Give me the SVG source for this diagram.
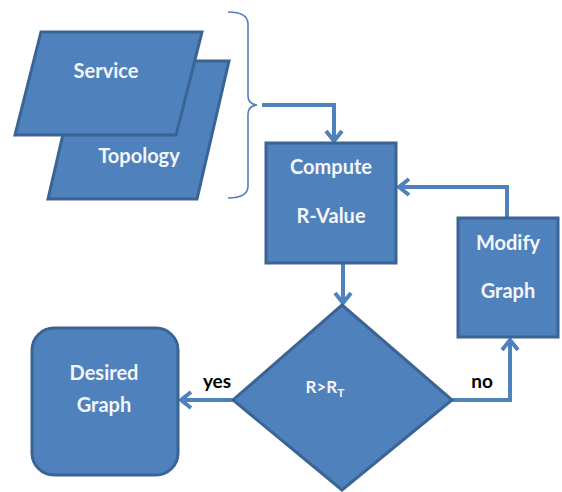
<svg xmlns="http://www.w3.org/2000/svg" width="562" height="492" viewBox="0 0 562 492">
  <style>
    .shape { fill: #4F81BD; stroke: #3A6494; stroke-width: 3; stroke-linejoin: miter; }
    .lbl { font-family: Lato, "Liberation Sans", sans-serif; font-weight: bold; font-size: 20px; fill: #F4F6FA; text-anchor: middle; }
    .edge { font-family: Lato, "Liberation Sans", sans-serif; font-weight: bold; font-size: 19px; fill: #000000; text-anchor: middle; }
    .conn { fill: none; stroke: #4F81BD; stroke-width: 4; marker-end: url(#arr); }
    .brace { fill: none; stroke: #4F81BD; stroke-width: 1.6; }
  </style>
  <defs>
    <marker id="arr" markerUnits="userSpaceOnUse" markerWidth="30" markerHeight="30" viewBox="-15 -15 30 30" refX="0" refY="0" orient="auto">
      <path d="M-9,-8 L1,0 L-9,8" fill="none" stroke="#4F81BD" stroke-width="4" stroke-linejoin="miter"/>
    </marker>
  </defs>
  <rect width="562" height="492" fill="#FFFFFF"/>

  <g id="connectors">
    <path class="brace" d="M228,12 Q248,12 248,24 V96 Q248,104 257,105 Q248,106 248,114 V186 Q248,198 228,198"/>
    <path class="conn" d="M262,105 H334 V140"/>
    <path class="conn" d="M507,218 V187 H400"/>
    <path class="conn" d="M343,263 V302"/>
    <path class="conn" d="M233,400 H182"/>
    <path class="conn" d="M452,400 H510 V341"/>
  </g>

  <g id="topology">
    <polygon class="shape" points="80,61 229,61 197,199 48,199"/>
    <text class="lbl" x="139" y="163">Topology</text>
  </g>
  <g id="service">
    <polygon class="shape" points="41,32 202,32 176,135 15,135"/>
    <text class="lbl" x="106" y="78">Service</text>
  </g>
  <g id="compute">
    <rect class="shape" x="266" y="143" width="130" height="120"/>
    <text class="lbl" x="331" y="174">Compute</text>
    <text class="lbl" x="331" y="223">R-Value</text>
  </g>
  <g id="modify">
    <rect class="shape" x="458" y="218" width="100" height="119"/>
    <text class="lbl" x="508" y="250">Modify</text>
    <text class="lbl" x="508" y="298">Graph</text>
  </g>
  <g id="decision">
    <polygon class="shape" points="342,305 452,400 342,490 233,400"/>
    <text class="lbl" x="325" y="393" style="font-size:17px">R&gt;R<tspan style="font-size:12px" dy="4">T</tspan></text>
  </g>
  <g id="desired">
    <rect class="shape" x="32" y="328" width="146" height="147" rx="22" ry="22"/>
    <text class="lbl" x="104" y="380">Desired</text>
    <text class="lbl" x="104" y="412">Graph</text>
  </g>
  <g id="labels">
    <text class="edge" x="217" y="388">yes</text>
    <text class="edge" x="482" y="388">no</text>
  </g>
</svg>
